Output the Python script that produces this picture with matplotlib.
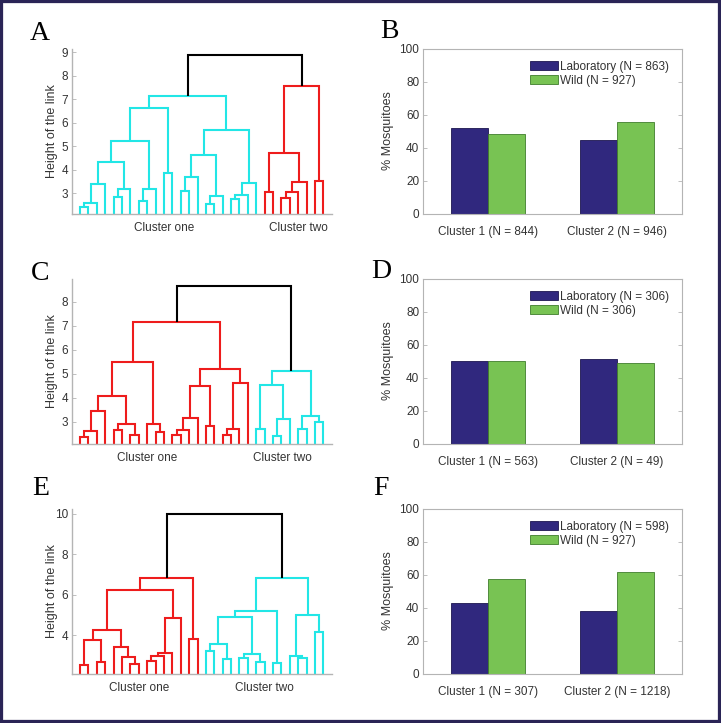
import matplotlib
matplotlib.use("Agg")
import matplotlib.pyplot as plt
from matplotlib.patches import Rectangle, Patch

plt.rcParams['font.family'] = ['Liberation Sans', 'DejaVu Sans']

# ---- dendrogram data: (left id, right id, link height); leaves 1..30, new nodes 31..
A_merges = [
    (1, 2, 2.43), (31, 3, 2.57), (32, 4, 3.39), (5, 6, 2.84), (34, 7, 3.20),
    (33, 35, 4.33), (8, 9, 2.69), (37, 10, 3.20), (36, 38, 5.24), (11, 12, 3.86),
    (39, 40, 6.64), (13, 14, 3.11), (42, 15, 3.69), (16, 17, 2.54), (44, 18, 2.90),
    (43, 45, 4.64), (19, 20, 2.74), (47, 21, 2.93), (48, 22, 3.46), (46, 49, 5.69),
    (41, 50, 7.13), (23, 24, 3.04), (25, 26, 2.81), (53, 27, 3.04), (54, 28, 3.49),
    (52, 55, 4.71), (29, 30, 3.54), (56, 57, 7.57), (51, 58, 8.89),
]
C_merges = [
    (1, 2, 2.38), (31, 3, 2.61), (32, 4, 3.47), (5, 6, 2.67), (7, 8, 2.45),
    (34, 35, 2.89), (33, 36, 4.07), (10, 11, 2.58), (9, 38, 2.90), (37, 39, 5.47),
    (12, 13, 2.46), (41, 14, 2.68), (42, 15, 3.17), (16, 17, 2.83), (43, 44, 4.47),
    (18, 19, 2.47), (46, 20, 2.69), (47, 21, 4.62), (45, 48, 5.19), (40, 49, 7.17),
    (22, 23, 2.71), (24, 25, 2.42), (52, 26, 3.10), (51, 53, 4.54), (27, 28, 2.71),
    (29, 30, 3.00), (55, 56, 3.25), (54, 57, 5.12), (50, 58, 8.65),
]
E_merges = [
    (1, 2, 2.50), (3, 4, 2.66), (31, 32, 3.74), (7, 8, 2.55), (6, 34, 2.91),
    (5, 35, 3.42), (33, 36, 4.26), (9, 10, 2.74), (38, 11, 2.96), (39, 12, 3.12),
    (40, 13, 4.84), (37, 41, 6.25), (14, 15, 3.82), (42, 43, 6.83),
    (16, 17, 3.22), (18, 19, 2.83), (45, 46, 3.57), (20, 21, 2.86), (22, 23, 2.66),
    (48, 49, 3.07), (47, 50, 4.89), (24, 25, 2.63), (51, 52, 5.17), (27, 28, 2.88),
    (26, 54, 2.96), (29, 30, 4.15), (55, 56, 4.98), (53, 57, 6.81), (44, 58, 9.97),
]
A_split, C_split, E_split = 22, 21, 15   # last leaf of "Cluster one"
cluster_names = ["Cluster one", "Cluster two"]

# ---- bar data
series_names = ["Laboratory", "Wild"]
B_lab, B_wild = [52.0, 44.6], [48.0, 55.4]
D_lab, D_wild = [50.0, 51.0], [50.0, 49.0]
F_lab, F_wild = [42.9, 38.1], [57.1, 61.7]
B_n, D_n, F_n = [863, 927], [306, 306], [598, 927]
B_clusters = ["Cluster 1 (N = 844)", "Cluster 2 (N = 946)"]
D_clusters = ["Cluster 1 (N = 563)", "Cluster 2 (N = 49)"]
F_clusters = ["Cluster 1 (N = 307)", "Cluster 2 (N = 1218)"]

W, H = 721, 723
CYAN, RED = "#22e6e6", "#ee1c1c"
NAVY, GREEN = "#30287e", "#78c353"
SPINE = "#b4b4b4"
TXT = "#333333"

fig = plt.figure(figsize=(W / 100, H / 100), dpi=100)


def px_axes(left, top, w, h):
    return fig.add_axes([left / W, 1 - (top + h) / H, w / W, h / H])


def draw_dendrogram(ax, merges, split, colors, ylim, yticks, name_x):
    pos = {i: float(i) for i in range(1, 31)}
    hgt = {i: 0.0 for i in range(1, 31)}
    leaves = {i: [i] for i in range(1, 31)}
    nid = 31
    for k, (a, b, h) in enumerate(merges):
        lv = leaves[a] + leaves[b]
        if k == len(merges) - 1:
            c = "black"
        elif max(lv) <= split:
            c = colors[0]
        else:
            c = colors[1]
        ax.plot([pos[a], pos[a], pos[b], pos[b]], [hgt[a], h, h, hgt[b]],
                color=c, lw=1.5, solid_joinstyle="miter", solid_capstyle="butt")
        pos[nid] = (pos[a] + pos[b]) / 2
        hgt[nid] = h
        leaves[nid] = lv
        nid += 1
    ax.set_xlim(0, 31)
    ax.set_ylim(*ylim)
    ax.set_yticks(yticks)
    ax.set_xticks(name_x)
    ax.set_xticklabels(cluster_names)
    for s in ["top", "right"]:
        ax.spines[s].set_visible(False)
    for s in ["left", "bottom"]:
        ax.spines[s].set_color(SPINE)
        ax.spines[s].set_linewidth(1.0)
    ax.tick_params(axis="y", direction="in", length=3, width=0.6, color=SPINE,
                   labelsize=8.5, labelcolor=TXT, pad=2.5)
    ax.tick_params(axis="x", length=0, labelsize=8.5, labelcolor=TXT, pad=6)


def draw_bars(ax, lab, wild, ns, labels):
    x = [1, 2]
    w = 0.287
    ax.bar([v - w / 2 for v in x], lab, width=w, color=NAVY, edgecolor="#1c1650", lw=0.6)
    ax.bar([v + w / 2 for v in x], wild, width=w, color=GREEN, edgecolor="#3f7d2c", lw=0.6)
    ax.set_xlim(0.5, 2.5)
    ax.set_ylim(0, 100)
    ax.set_yticks(range(0, 101, 20))
    ax.set_xticks(x)
    ax.set_xticklabels(labels)
    for s in ax.spines.values():
        s.set_color(SPINE)
        s.set_linewidth(0.8)
    ax.tick_params(axis="y", direction="in", length=3, width=0.6, color=SPINE,
                   labelsize=8.5, labelcolor=TXT, pad=3, right=True)
    ax.tick_params(axis="x", length=0, labelsize=8.5, labelcolor=TXT, pad=9)
    handles = [Patch(facecolor=NAVY, edgecolor="#1c1650", lw=0.6),
               Patch(facecolor=GREEN, edgecolor="#3f7d2c", lw=0.6)]
    texts = [f"{series_names[0]} (N = {ns[0]})", f"{series_names[1]} (N = {ns[1]})"]
    ax.legend(handles, texts, loc="upper left", bbox_to_anchor=(0.412, 0.925),
              frameon=False, fontsize=8.5, borderpad=0, borderaxespad=0,
              handlelength=2.4, handleheight=0.85, handletextpad=0.2,
              labelspacing=0.15, labelcolor=TXT)


rows = [48.5, 278.5, 508.5]
ah = 165
dendros = [
    (A_merges, A_split, (CYAN, RED), (2.14, 9.17), range(3, 10), [11.0, 27.0]),
    (C_merges, C_split, (RED, CYAN), (2.10, 8.96), range(3, 9), [9.0, 25.1]),
    (E_merges, E_split, (RED, CYAN), (2.10, 10.26), range(4, 11, 2), [8.0, 23.0]),
]
bars = [
    (B_lab, B_wild, B_n, B_clusters),
    (D_lab, D_wild, D_n, D_clusters),
    (F_lab, F_wild, F_n, F_clusters),
]
for top, d, b in zip(rows, dendros, bars):
    axl = px_axes(71.7, top, 260, ah)
    draw_dendrogram(axl, *d)
    fig.text(51.7 / W, 1 - (top + ah / 2) / H, "Height of the link", rotation=90,
             ha="center", va="center", fontsize=9, color=TXT)
    axr = px_axes(423.3, top, 258.4, ah)
    draw_bars(axr, *b)
    fig.text(388 / W, 1 - (top + ah / 2) / H, "% Mosquitoes", rotation=90,
             ha="center", va="center", fontsize=9, color=TXT)

letters = [("A", 40, 40), ("B", 389.5, 37.5), ("C", 40.5, 280),
           ("D", 381.5, 278), ("E", 40.5, 495), ("F", 380.5, 495)]
for s, x, y in letters:
    fig.text(x / W, 1 - y / H, s, ha="center", va="baseline", fontsize=20,
             family=["Liberation Serif", "DejaVu Serif"], color="black")

fig.patches.append(Rectangle((0, 0), 1, 1, transform=fig.transFigure, fill=False,
                             ec="#2a2456", lw=4.5))

fig.savefig("out.png", dpi=100)
